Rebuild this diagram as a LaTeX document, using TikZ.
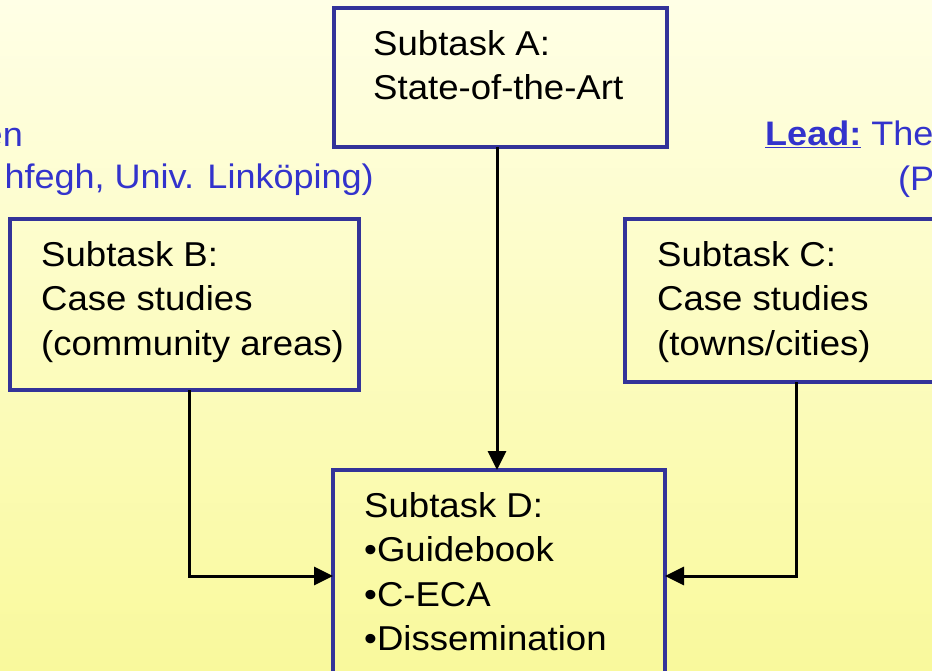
\documentclass[tikz,border=0pt]{standalone}
\usepackage{fontspec}
\setmainfont{Liberation Sans}[FakeStretch=1.06]
\usetikzlibrary{arrows.meta}
\definecolor{bgtop}{HTML}{FFFFE6}
\definecolor{bgbot}{HTML}{F9F99C}
\definecolor{boxblue}{HTML}{333399}
\definecolor{leadblue}{HTML}{3333CC}
\tikzset{
  x=1pt, y=-1pt,
  taskbox/.style={draw=boxblue, line width=3.8pt, rectangle, inner sep=0pt, outer sep=0pt, anchor=north west},
  tasktext/.style={anchor=base west, inner sep=0pt, font=\fontsize{34.5}{44.5}\selectfont, text=black},
  leadtext/.style={inner sep=0pt, font=\fontsize{34}{44.5}\selectfont, text=leadblue},
  conn/.style={draw=black, line width=3pt, -{Triangle[length=19pt,width=18pt]}}
}
\begin{document}
\begin{tikzpicture}
\useasboundingbox (0,0) rectangle (932,670);
\clip (0,0) rectangle (932,670);
\shade[top color=bgtop, bottom color=bgbot] (0,0) rectangle (932,670);

% boxes
\node[taskbox, minimum width=333pt, minimum height=139pt] (A) at (334,8) {};
\node[taskbox, minimum width=349pt, minimum height=171pt] (B) at (10,219) {};
\node[taskbox, minimum width=320pt, minimum height=163pt] (C) at (625,219) {};
\node[taskbox, minimum width=332pt, minimum height=230pt] (D) at (333,470) {};

% box texts
\node[tasktext] (At) at (373,55) {\begin{tabular}[t]{@{}l@{}}Subtask A:\\State-of-the-Art\end{tabular}};
\node[tasktext] (Bt) at (41,266) {\begin{tabular}[t]{@{}l@{}}Subtask B:\\Case studies\\(community areas)\end{tabular}};
\node[tasktext] (Ct) at (657,266) {\begin{tabular}[t]{@{}l@{}}Subtask C:\\Case studies\\(towns/cities)\end{tabular}};
\node[tasktext] (Dt) at (364,517) {\begin{tabular}[t]{@{}l@{}}Subtask D:\\\textbullet Guidebook\\\textbullet C-ECA\\\textbullet Dissemination\end{tabular}};

% lead texts
\node[leadtext, anchor=base east] (L1) at (23,146.5) {en};
\node[leadtext, anchor=base east] (L2) at (374,188) {hfegh, Univ. Linköping)};
\node[leadtext, anchor=base west] (R1) at (765,145) {\underline{\textbf{Lead:}} The};
\node[leadtext, anchor=base west] (R2) at (898,190) {(P};

% connectors
\coordinate (jA) at (497,0);
\coordinate (jB) at (189,576);
\coordinate (jC) at (796,576);
\draw[conn] (A.south -| jA) -- (D.north -| jA);
\draw[conn] (B.south -| jB) |- (D.west |- jB);
\draw[conn] (C.south -| jC) |- (D.east |- jC);
\end{tikzpicture}
\end{document}
